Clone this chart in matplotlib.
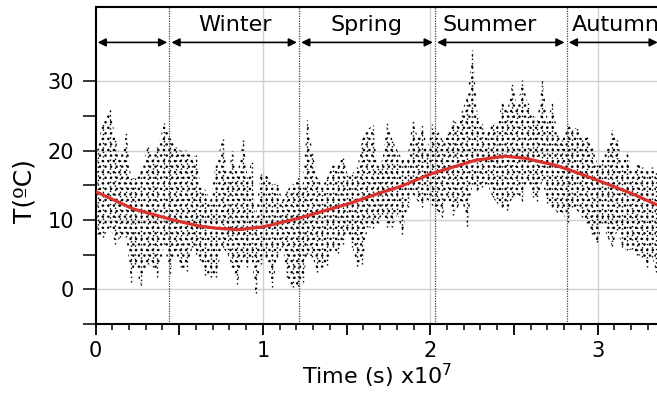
import numpy as np
import matplotlib.pyplot as plt

# time of each column of points (units of 1e7 s) with the highest and lowest temperature seen there
t_col = [0.012, 0.042, 0.087, 0.119, 0.149, 0.185, 0.212, 0.236, 0.269, 0.311,
         0.341, 0.370, 0.412, 0.442, 0.478, 0.508, 0.544, 0.579, 0.603, 0.627,
         0.657, 0.687, 0.717, 0.759, 0.789, 0.818, 0.848, 0.884, 0.908, 0.932,
         0.956, 0.986, 1.016, 1.057, 1.087, 1.117, 1.147, 1.177, 1.207, 1.237,
         1.266, 1.296, 1.326, 1.356, 1.386, 1.416, 1.446, 1.476, 1.505, 1.535,
         1.565, 1.595, 1.625, 1.655, 1.685, 1.714, 1.744, 1.774, 1.804, 1.834,
         1.864, 1.894, 1.924, 1.953, 1.983, 2.013, 2.043, 2.073, 2.103, 2.133,
         2.162, 2.192, 2.222, 2.252, 2.282, 2.312, 2.342, 2.372, 2.401, 2.431,
         2.461, 2.491, 2.521, 2.551, 2.581, 2.611, 2.640, 2.670, 2.700, 2.730,
         2.760, 2.790, 2.820, 2.849, 2.879, 2.909, 2.939, 2.969, 2.999, 3.029,
         3.059, 3.088, 3.118, 3.148, 3.178, 3.208, 3.238, 3.268, 3.297, 3.327,
         3.348]
t_max = [20.5, 24.0, 26.3, 21.5, 19.0, 22.5, 16.0, 16.0, 17.0, 20.5,
         19.0, 20.5, 24.0, 22.0, 20.5, 20.0, 20.0, 19.0, 19.3, 14.8,
         14.3, 12.8, 17.7, 21.7, 16.2, 20.0, 16.7, 21.7, 16.2, 18.6,
         10.4, 16.7, 16.7, 15.2, 15.2, 12.8, 14.3, 15.2, 16.2, 14.8,
         24.4, 19.8, 16.0, 14.8, 16.2, 17.9, 17.7, 19.3, 16.7, 16.7,
         17.7, 21.7, 23.0, 23.7, 17.7, 18.6, 24.0, 21.5, 20.0, 18.6,
         19.0, 24.4, 22.0, 23.9, 20.0, 23.9, 22.9, 21.5, 22.5, 24.4,
         23.9, 25.8, 27.8, 34.5, 25.3, 23.9, 22.5, 23.9, 23.9, 27.0,
         25.8, 29.7, 26.3, 30.2, 26.8, 25.3, 24.4, 30.2, 24.4, 26.8,
         22.5, 21.5, 23.9, 22.9, 23.4, 21.5, 22.0, 20.5, 18.1, 18.6,
         20.3, 22.9, 21.5, 18.1, 19.8, 16.7, 18.1, 17.7, 17.0, 17.7,
         17.2]
t_min = [8.0, 7.5, 9.0, 6.6, 7.5, 7.5, 1.1, 3.7, 0.6, 3.7,
         3.2, 1.8, 6.6, 2.3, 5.6, 3.2, 2.7, 6.1, 5.1, 4.2,
         2.0, 1.8, 1.8, 6.1, 5.1, 3.2, 0.8, 4.7, 3.2, 4.7,
         -0.6, 3.7, 4.7, 0.3, 4.7, 6.1, 1.8, 0.3, 0.5, 1.1,
         5.1, 4.7, 2.5, 3.2, 3.5, 6.1, 5.2, 6.6, 8.5, 6.1,
         3.3, 3.7, 9.0, 8.8, 9.5, 10.9, 9.0, 9.0, 10.9, 8.0,
         11.9, 13.8, 12.8, 11.9, 13.0, 12.1, 11.4, 10.4, 13.3, 10.7,
         11.9, 12.8, 9.2, 15.2, 14.3, 14.8, 15.2, 13.3, 12.4, 11.9,
         11.4, 13.3, 13.8, 12.8, 15.7, 13.3, 12.8, 15.7, 12.4, 11.9,
         11.1, 11.1, 9.7, 11.9, 11.4, 10.4, 9.5, 8.0, 6.8, 9.5,
         7.5, 6.2, 8.5, 6.1, 5.6, 5.8, 5.0, 4.7, 3.2, 4.7,
         2.5]

# red fitted curve
fit_t = [0.0, 0.224, 0.463, 0.624, 0.726, 0.851, 1.0, 1.222, 1.52, 1.699,
         1.819, 1.998, 2.267, 2.446, 2.566, 2.745, 2.834, 3.002, 3.205, 3.372]
fit_T = [14.1, 11.6, 10.0, 9.1, 8.8, 8.6, 9.0, 10.3, 12.4, 13.9,
         14.8, 16.6, 18.6, 19.2, 18.9, 17.9, 17.2, 15.7, 13.8, 12.0]

season_bounds = [0.441, 1.216, 2.028, 2.815]
season_names = ['Winter', 'Spring', 'Summer', 'Autumn']
season_text_x = [0.833, 1.622, 2.357, 2.848]

x_end = 3.372

fig = plt.figure(figsize=(6.57, 3.95), dpi=100)
ax = fig.add_axes([0.1454, 0.1797, 0.859, 0.8025])

# grid
for g in [1, 2, 3]:
    ax.axvline(g, color='#d0d0d0', lw=1, zorder=0)
for g in [0, 10, 20, 30]:
    ax.axhline(g, color='#d0d0d0', lw=1, zorder=0)

# point cloud
plt.rcParams['hatch.linewidth'] = 1.0
ax.fill_between(t_col, t_min, t_max, facecolor='none', edgecolor='black',
                hatch='...', lw=0, zorder=1)
ax.vlines(t_col, t_min, t_max, colors='black', lw=1.0,
          linestyles=(0, (1, 2.2)), zorder=2)

# fitted curve
ax.plot(fit_t, fit_T, color='#d9312b', lw=2.3, zorder=3)

# seasons
for b in season_bounds:
    ax.axvline(b, color='#444444', lw=0.9, ls=(0, (1, 1)), zorder=2)
edges = [0] + season_bounds + [x_end]
for i in range(len(edges) - 1):
    ax.annotate('', xy=(edges[i + 1], 35.6), xytext=(edges[i], 35.6),
                arrowprops=dict(arrowstyle='<|-|>', color='black', lw=1.2,
                                mutation_scale=12, shrinkA=1.5, shrinkB=1.5))
for name, xt in zip(season_names, season_text_x):
    ax.text(xt, 38.1, name, fontsize=16, va='center',
            ha='left' if name == 'Autumn' else 'center')

ax.set_xlim(0, x_end)
ax.set_ylim(-5, 40.7)

ax.set_xticks(np.arange(0, 3.01, 0.5))
ax.set_xticklabels(['0', '', '1', '', '2', '', '3'])
ax.set_xticks(np.arange(0, 3.35, 0.1), minor=True)
ax.set_yticks(np.arange(-5, 31, 5))
ax.set_yticklabels(['', '0', '', '10', '', '20', '', '30'])
ax.tick_params(axis='x', which='major', length=8, width=1.3, labelsize=15, pad=4)
ax.tick_params(axis='x', which='minor', length=4, width=1.1)
ax.tick_params(axis='y', which='major', length=9.5, width=1.1, labelsize=15, pad=6)

for s in ['left', 'top', 'bottom']:
    ax.spines[s].set_linewidth(1.5)
ax.spines['right'].set_visible(False)

ax.set_xlabel('Time (s) x10$^7$', fontsize=16, labelpad=1)
ax.set_ylabel('T(ºC)', fontsize=18)
ax.yaxis.set_label_coords(-0.104, 0.42)

fig.savefig('out.png', dpi=100)
